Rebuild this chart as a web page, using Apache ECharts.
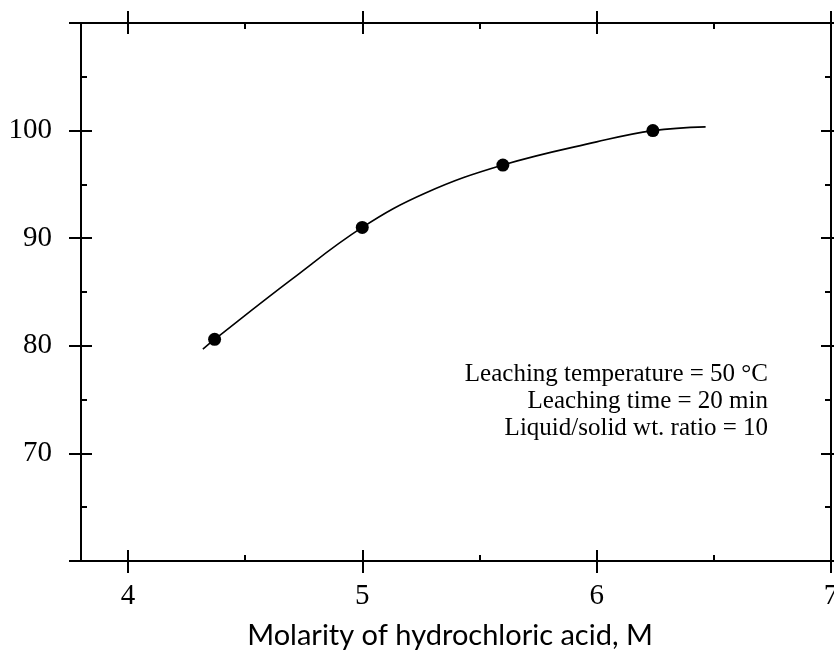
<!DOCTYPE html>
<html>
<head>
<meta charset="utf-8">
<script src="https://cdn.jsdelivr.net/npm/echarts@6/dist/echarts.min.js"></script>
<style>
html,body{margin:0;padding:0;background:#fff;}
#chart{width:834px;height:652px;}
</style>
</head>
<body>
<div id="chart"></div>
<script>
// ---- data ----
var xMajorTicks = [4, 5, 6, 7];
var xMinorTicks = [4.5, 5.5, 6.5];
var yMajorTicks = [60, 70, 80, 90, 100, 110];
var yMinorTicks = [65, 75, 85, 95, 105];
var yTickLabels = [70, 80, 90, 100];
var pointX = [4.37, 5.0, 5.6, 6.24];
var pointY = [80.6, 91.0, 96.8, 100.0];
var curveX = [4.32, 4.37, 4.7, 5.0, 5.27, 5.6, 6.0, 6.24, 6.465];
var curveY = [79.7, 80.6, 86.2, 91.0, 94.2, 96.8, 98.95, 100.0, 100.35];
var xTitle = 'Molarity of hydrochloric acid, M';
var annotationLines = ['Leaching temperature = 50 \u00B0C', 'Leaching time = 20 min', 'Liquid/solid wt. ratio = 10'];

var xMin = 3.8, xMax = 7, yMin = 60, yMax = 110;
var serif = '"Liberation Serif", "Times New Roman", serif';
var black = '#000';

function xAx(pos, ticks, len, inside, opts) {
  var a = {
    type: 'value', position: pos, min: xMin, max: xMax,
    axisLine: { show: true, onZero: false, lineStyle: { color: black, width: 2 } },
    axisTick: { show: true, customValues: ticks, length: len, inside: inside, lineStyle: { color: black, width: 2 } },
    axisLabel: { show: false },
    splitLine: { show: false }
  };
  if (opts) for (var k in opts) a[k] = opts[k];
  return a;
}
function yAx(pos, ticks, len, inside, opts) {
  var a = {
    type: 'value', position: pos, min: yMin, max: yMax,
    axisLine: { show: true, onZero: false, lineStyle: { color: black, width: 2 } },
    axisTick: { show: true, customValues: ticks, length: len, inside: inside, lineStyle: { color: black, width: 2 } },
    axisLabel: { show: false },
    splitLine: { show: false }
  };
  if (opts) for (var k in opts) a[k] = opts[k];
  return a;
}

var curveData = curveX.map(function (x, i) { return [x, curveY[i]]; });
var pointData = pointX.map(function (x, i) { return [x, pointY[i]]; });

var chart = echarts.init(document.getElementById('chart'), null, { renderer: 'canvas' });
chart.setOption({
  animation: false,
  backgroundColor: '#fff',
  grid: { left: 81, right: 3, top: 23, bottom: 91, containLabel: false, outerBoundsMode: 'none' },
  xAxis: [
    xAx('bottom', xMajorTicks, 12, false, {
      axisLabel: { show: true, customValues: xMajorTicks, margin: 21, color: black, fontSize: 29, fontFamily: serif },
      name: xTitle, nameLocation: 'middle', nameGap: 60,
      nameTextStyle: { color: black, fontSize: 29, fontFamily: 'Lato, "Open Sans", sans-serif', padding: [0, 12, 0, 0] }
    }),
    xAx('bottom', xMajorTicks, 11, true),
    xAx('bottom', xMinorTicks, 6, true),
    xAx('top', xMajorTicks, 12, false),
    xAx('top', xMajorTicks, 11, true),
    xAx('top', xMinorTicks, 6, true)
  ],
  yAxis: [
    yAx('left', yMajorTicks, 12, false, {
      axisLabel: { show: true, customValues: yTickLabels, margin: 29, color: black, fontSize: 29, fontFamily: serif }
    }),
    yAx('left', yMajorTicks, 11, true),
    yAx('left', yMinorTicks, 6, true),
    yAx('right', yMajorTicks, 12, false),
    yAx('right', yMajorTicks, 10, true),
    yAx('right', yMinorTicks, 6, true)
  ],
  graphic: annotationLines.map(function (t, i) {
    return {
      type: 'text', right: 66, top: 362 + i * 27,
      style: { text: t, fill: black, font: '25px ' + serif, textAlign: 'right' }
    };
  }),
  series: [
    {
      type: 'line', data: curveData, xAxisIndex: 0, yAxisIndex: 0,
      smooth: 0.4, showSymbol: false, silent: true,
      lineStyle: { color: black, width: 1.6 }
    },
    {
      type: 'scatter', data: pointData, xAxisIndex: 0, yAxisIndex: 0,
      symbol: 'circle', symbolSize: 13,
      itemStyle: { color: black, opacity: 1 }
    }
  ]
});
</script>
</body>
</html>
